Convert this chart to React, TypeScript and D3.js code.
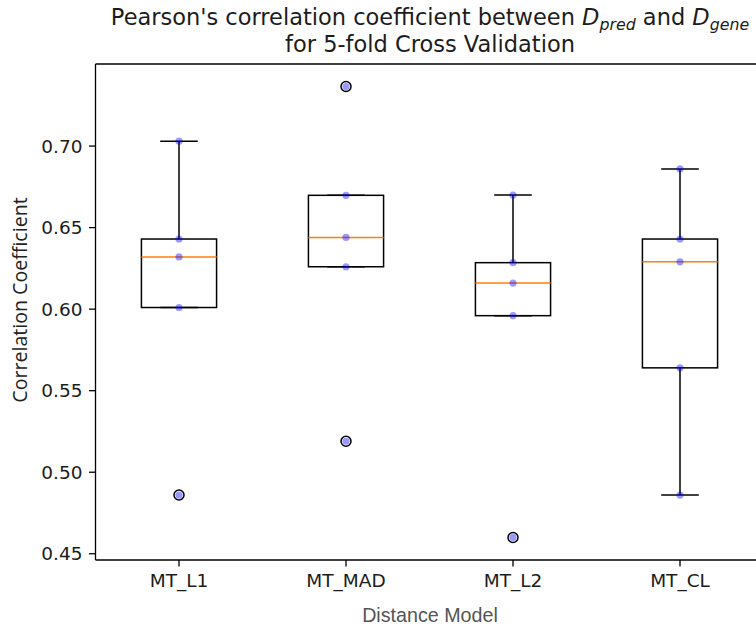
import React from "react";
import * as d3 from "d3";

const categories = ["MT_L1", "MT_MAD", "MT_L2", "MT_CL"];
const mtL1 = [0.703, 0.643, 0.632, 0.601, 0.486];
const mtMAD = [0.7365, 0.6698, 0.644, 0.626, 0.519];
const mtL2 = [0.670, 0.6285, 0.616, 0.596, 0.460];
const mtCL = [0.686, 0.643, 0.629, 0.564, 0.486];
const seriesValues = [mtL1, mtMAD, mtL2, mtCL];
const yTicks = [0.45, 0.5, 0.55, 0.6, 0.65, 0.7];

const W = 756;
const H = 628;
const left = 95.5;
const right = 763.5;
const top = 64;
const bottom = 560;

function stats(vals: number[]) {
  const s = [...vals].sort(d3.ascending);
  const q1 = d3.quantile(s, 0.25)!;
  const med = d3.quantile(s, 0.5)!;
  const q3 = d3.quantile(s, 0.75)!;
  const iqr = q3 - q1;
  const lo = q1 - 1.5 * iqr;
  const hi = q3 + 1.5 * iqr;
  const inside = s.filter((v) => v >= lo && v <= hi);
  const wLo = d3.min(inside)!;
  const wHi = d3.max(inside)!;
  const fliers = s.filter((v) => v < lo || v > hi);
  return { q1, med, q3, wLo, wHi, fliers };
}

export default function App() {
  const all = seriesValues.flat();
  const mn = d3.min(all)!;
  const mx = d3.max(all)!;
  const pad = (mx - mn) * 0.05;
  const y = d3.scaleLinear().domain([mn - pad, mx + pad]).range([bottom, top]);
  const x = d3.scaleLinear().domain([0.5, 4.5]).range([left, right]);
  const boxW = x(1.45) - x(1);
  const capW = boxW / 2;
  const font = "DejaVu Sans, sans-serif";
  const lw = 1.5;
  const tickFs = 18.5;
  const ink = "#1c1c1c";

  return (
    <svg width={W} height={H} style={{ position: "absolute", left: 0, top: 0 }}>
      <rect width={W} height={H} fill="white" />
      {/* title */}
      <text x={430} y={25} textAnchor="middle" fontFamily={font} fontSize={22.5} fill={ink}>
        Pearson's correlation coefficient between{" "}
        <tspan fontStyle="italic">D</tspan>
        <tspan fontStyle="italic" fontSize={15.8} dy={5}>pred</tspan>
        <tspan dy={-5}> and </tspan>
        <tspan fontStyle="italic">D</tspan>
        <tspan fontStyle="italic" fontSize={15.8} dy={5}>gene</tspan>
      </text>
      <text x={430} y={52} textAnchor="middle" fontFamily={font} fontSize={22.5} fill={ink}>
        for 5-fold Cross Validation
      </text>

      {/* boxes */}
      {seriesValues.map((vals, i) => {
        const st = stats(vals);
        const cx = x(i + 1);
        return (
          <g key={categories[i]} fill="none">
            <rect
              x={cx - boxW / 2}
              y={y(st.q3)}
              width={boxW}
              height={y(st.q1) - y(st.q3)}
              stroke="#000"
              strokeWidth={lw}
            />
            <line x1={cx} x2={cx} y1={y(st.q3)} y2={y(st.wHi)} stroke="#000" strokeWidth={lw} />
            <line x1={cx} x2={cx} y1={y(st.q1)} y2={y(st.wLo)} stroke="#000" strokeWidth={lw} />
            <line x1={cx - capW / 2} x2={cx + capW / 2} y1={y(st.wHi)} y2={y(st.wHi)} stroke="#000" strokeWidth={lw} />
            <line x1={cx - capW / 2} x2={cx + capW / 2} y1={y(st.wLo)} y2={y(st.wLo)} stroke="#000" strokeWidth={lw} />
            <line x1={cx - boxW / 2} x2={cx + boxW / 2} y1={y(st.med)} y2={y(st.med)} stroke="#ff7f0e" strokeWidth={lw} />
            {st.fliers.map((f, j) => (
              <circle key={j} cx={cx} cy={y(f)} r={5} fill="none" stroke="#000" strokeWidth={lw} />
            ))}
          </g>
        );
      })}
      {/* scatter points */}
      {seriesValues.map((vals, i) =>
        vals.map((v, j) => (
          <circle key={`${i}-${j}`} cx={x(i + 1)} cy={y(v)} r={3.6} fill="#0000ff" fillOpacity={0.4} />
        ))
      )}

      {/* spines */}
      <line x1={left} x2={left} y1={top} y2={bottom} stroke="#000" strokeWidth={1.3} />
      <line x1={left} x2={right} y1={top} y2={top} stroke="#000" strokeWidth={1.3} />
      <line x1={left} x2={right} y1={bottom} y2={bottom} stroke="#000" strokeWidth={1.3} />
      <line x1={right} x2={right} y1={top} y2={bottom} stroke="#000" strokeWidth={1.3} />

      {/* y ticks */}
      {yTicks.map((t) => (
        <g key={t}>
          <line x1={left - 6.5} x2={left} y1={y(t)} y2={y(t)} stroke="#000" strokeWidth={1.3} />
          <text x={left - 13} y={y(t)} dy="0.35em" textAnchor="end" fontFamily={font} fontSize={tickFs} fill={ink}>
            {t.toFixed(2)}
          </text>
        </g>
      ))}
      {/* x ticks */}
      {categories.map((c, i) => (
        <g key={c}>
          <line x1={x(i + 1)} x2={x(i + 1)} y1={bottom} y2={bottom + 6.5} stroke="#000" strokeWidth={1.3} />
          <text x={x(i + 1)} y={bottom + 27} textAnchor="middle" fontFamily={font} fontSize={tickFs} fill={ink}>
            {c}
          </text>
        </g>
      ))}

      {/* axis labels */}
      <text
        x={430}
        y={622}
        textAnchor="middle"
        fontFamily="Liberation Sans, Arial, sans-serif"
        fontSize={19.7}
        fill="#555"
      >
        Distance Model
      </text>
      <text
        transform={`translate(27, ${(top + bottom) / 2 - 12}) rotate(-90)`}
        textAnchor="middle"
        fontFamily="Open Sans, sans-serif"
        fontSize={19.6}
        fill="#222"
      >
        Correlation Coefficient
      </text>
    </svg>
  );
}
